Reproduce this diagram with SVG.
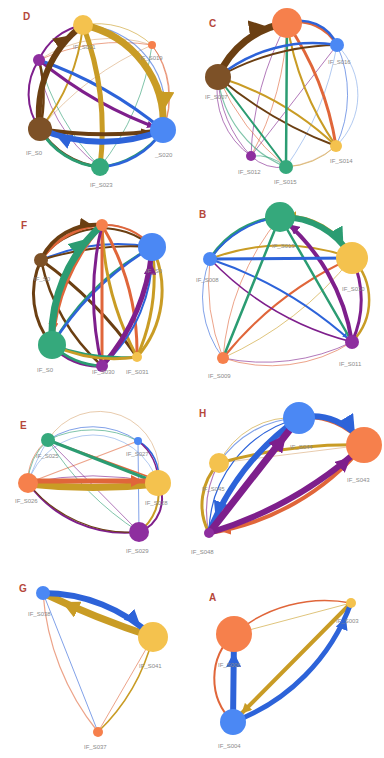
<svg xmlns="http://www.w3.org/2000/svg" width="384" height="758" viewBox="0 0 384 758">
<style>
.e{fill:none;stroke-linecap:round}
.t{opacity:0.6}
.y{stroke:#C99C25}.o{stroke:#E0663A}.b{stroke:#2D63D9}.br{stroke:#6B3F12}.p{stroke:#7E1F8C}.g{stroke:#2B9C72}.lb{stroke:#7FA6E8}.tan{stroke:#D9A877}
.ny{fill:#F4C24E}.no{fill:#F6804C}.nb{fill:#4B88F4}.nbr{fill:#7D5127}.np{fill:#8E2E9F}.ng{fill:#35A97C}
.lab{font-family:"Liberation Sans",Arial,sans-serif;font-size:6px;fill:#8A8A8A}
.ttl{font-family:"Liberation Sans",Arial,sans-serif;font-size:10px;font-weight:bold;fill:#B5473A}
</style>
<defs>
<marker id="ay" viewBox="0 0 10 10" refX="22" refY="5" markerWidth="2.5" markerHeight="2.5" orient="auto" markerUnits="strokeWidth"><path d="M0,0L10,5L0,10z" fill="#C99C25"/></marker>
<marker id="ab" viewBox="0 0 10 10" refX="22" refY="5" markerWidth="2.5" markerHeight="2.5" orient="auto" markerUnits="strokeWidth"><path d="M0,0L10,5L0,10z" fill="#2D63D9"/></marker>
<marker id="abr" viewBox="0 0 10 10" refX="22" refY="5" markerWidth="2.5" markerHeight="2.5" orient="auto" markerUnits="strokeWidth"><path d="M0,0L10,5L0,10z" fill="#6B3F12"/></marker>
<marker id="ap" viewBox="0 0 10 10" refX="22" refY="5" markerWidth="2.5" markerHeight="2.5" orient="auto" markerUnits="strokeWidth"><path d="M0,0L10,5L0,10z" fill="#7E1F8C"/></marker>
<marker id="ag" viewBox="0 0 10 10" refX="22" refY="5" markerWidth="2.5" markerHeight="2.5" orient="auto" markerUnits="strokeWidth"><path d="M0,0L10,5L0,10z" fill="#2B9C72"/></marker>
<marker id="ao" viewBox="0 0 10 10" refX="22" refY="5" markerWidth="2.5" markerHeight="2.5" orient="auto" markerUnits="strokeWidth"><path d="M0,0L10,5L0,10z" fill="#E0663A"/></marker>
</defs>
<rect width="384" height="758" fill="#FFFFFF"/>

<!-- Panel D -->
<g id="panelD">
<text class="ttl" x="23" y="20">D</text>
<g id="edgesD">
<path class="e y t" stroke-width="1" d="M83,25 A80 80 0 0 1 152,45"/>
<path class="e o t" stroke-width="1" d="M152,45 A90 90 0 0 1 163,130"/>
<path class="e tan t" stroke-width="1" d="M152,45 A300 300 0 0 0 40,129"/>
<path class="e g t" stroke-width="1" d="M152,45 A250 250 0 0 1 100,167"/>
<path class="e tan t" stroke-width="1" d="M39,60 A130 130 0 0 1 152,45"/>
<path class="e o t" stroke-width="1" d="M152,45 A200 200 0 0 0 39,60"/>
<path class="e g t" stroke-width="1" d="M100,167 A250 250 0 0 1 39,60"/>
<path class="e p t" stroke-width="1" d="M39,60 A150 150 0 0 0 100,167"/>
<path class="e g t" stroke-width="1.2" d="M100,167 A300 300 0 0 0 83,25"/>
<path class="e b t" stroke-width="1.2" d="M163,130 A85 85 0 0 0 83,25"/>
<path class="e o t" stroke-width="1" d="M163,130 A85 85 0 0 0 152,45"/>
<path class="e p" stroke-width="2" d="M39,60 A60 60 0 0 1 83,25"/>
<path class="e y" stroke-width="2" d="M83,25 A200 200 0 0 1 40,129"/>
<path class="e p" stroke-width="2" d="M39,60 A60 60 0 0 0 40,129"/>
<path class="e br" stroke-width="2.5" d="M40,129 A150 150 0 0 0 39,60"/>
<path class="e g" stroke-width="2" d="M100,167 A90 90 0 0 0 163,130"/>
<path class="e br" stroke-width="3" d="M40,129 A80 80 0 0 0 100,167"/>
<path class="e g" stroke-width="3" d="M100,167 A75 75 0 0 1 40,129"/>
<path class="e b" stroke-width="2.5" d="M163,130 A80 80 0 0 1 100,167"/>
<path class="e p" stroke-width="3" d="M39,60 A400 400 0 0 0 163,130" marker-end="url(#ap)"/>
<path class="e b" stroke-width="3" d="M163,130 A400 400 0 0 0 39,60"/>
<path class="e y" stroke-width="5" d="M83,25 A300 300 0 0 1 100,167"/>
<path class="e br" stroke-width="6" d="M40,129 A110 110 0 0 1 83,25" marker-end="url(#abr)"/>
<path class="e br" stroke-width="4" d="M40,129 A400 400 0 0 0 163,130" marker-end="url(#abr)"/>
<path class="e b" stroke-width="6" d="M163,130 A160 160 0 0 1 40,129" marker-end="url(#ab)"/>
<path class="e y" stroke-width="7" d="M83,25 A100 100 0 0 1 163,130" marker-end="url(#ay)"/>
</g>
<g id="D-S021"><circle class="ny" cx="83" cy="25" r="10"/><text class="lab" x="73" y="49">IF_S021</text></g>
<g id="D-S019"><circle class="no" cx="152" cy="45" r="4"/><text class="lab" x="140" y="60">IF_S019</text></g>
<g id="D-S022"><circle class="np" cx="39" cy="60" r="6"/></g>
<g id="D-S024"><circle class="nbr" cx="40" cy="129" r="12"/><text class="lab" x="26" y="155">IF_S0</text></g>
<g id="D-S020"><circle class="nb" cx="163" cy="130" r="13"/><text class="lab" x="155" y="157">_S020</text></g>
<g id="D-S023"><circle class="ng" cx="100" cy="167" r="9"/><text class="lab" x="90" y="187">IF_S023</text></g>
</g>

<!-- Panel C -->
<g id="panelC">
<text class="ttl" x="209" y="27">C</text>
<g id="edgesC">
<path class="e lb t" stroke-width="1" d="M336,146 A70 70 0 0 0 337,45"/>
<path class="e b t" stroke-width="1" d="M337,45 A120 120 0 0 1 336,146"/>
<path class="e p t" stroke-width="1" d="M251,156 A300 300 0 0 1 287,23"/>
<path class="e o t" stroke-width="1" d="M287,23 A300 300 0 0 1 251,156"/>
<path class="e p t" stroke-width="1" d="M251,156 L337,45"/>
<path class="e lb t" stroke-width="1" d="M286,167 A300 300 0 0 0 337,45"/>
<path class="e y t" stroke-width="1" d="M286,167 A80 80 0 0 0 336,146"/>
<path class="e tan t" stroke-width="1" d="M336,146 A90 90 0 0 1 286,167"/>
<path class="e p t" stroke-width="1" d="M251,156 A40 40 0 0 0 286,167"/>
<path class="e g t" stroke-width="1" d="M286,167 A45 45 0 0 0 251,156"/>
<path class="e p t" stroke-width="1" d="M218,77 A80 80 0 0 0 251,156"/>
<path class="e p t" stroke-width="1" d="M251,156 A120 120 0 0 1 218,77"/>
<path class="e g t" stroke-width="1.2" d="M286,167 A110 110 0 0 1 218,77"/>
<path class="e o t" stroke-width="1" d="M218,77 A250 250 0 0 0 286,167"/>
<path class="e g" stroke-width="2" d="M218,77 L286,167"/>
<path class="e y" stroke-width="2" d="M336,146 A300 300 0 0 0 218,77"/>
<path class="e br" stroke-width="2" d="M218,77 A400 400 0 0 0 336,146"/>
<path class="e g" stroke-width="2.5" d="M287,23 L286,167"/>
<path class="e y" stroke-width="2" d="M336,146 A300 300 0 0 1 287,23"/>
<path class="e o" stroke-width="3" d="M287,23 A300 300 0 0 1 336,146"/>
<path class="e br" stroke-width="2" d="M218,77 A250 250 0 0 1 337,45"/>
<path class="e b" stroke-width="2.5" d="M337,45 A150 150 0 0 0 218,77"/>
<path class="e o" stroke-width="3" d="M287,23 A45 45 0 0 1 337,45"/>
<path class="e b" stroke-width="2.5" d="M337,45 A40 40 0 0 0 287,23" marker-end="url(#ab)"/>
<path class="e br" stroke-width="7" d="M218,77 A90 90 0 0 1 287,23" marker-end="url(#abr)"/>
</g>
<g id="C-S017"><circle class="no" cx="287" cy="23" r="15"/></g>
<g id="C-S016"><circle class="nb" cx="337" cy="45" r="7"/><text class="lab" x="328" y="64">IF_S016</text></g>
<g id="C-S007"><circle class="nbr" cx="218" cy="77" r="13"/><text class="lab" x="205" y="99">IF_S007</text></g>
<g id="C-S014"><circle class="ny" cx="336" cy="146" r="6"/><text class="lab" x="330" y="163">IF_S014</text></g>
<g id="C-S015"><circle class="ng" cx="286" cy="167" r="7"/><text class="lab" x="274" y="184">IF_S015</text></g>
<g id="C-S012"><circle class="np" cx="251" cy="156" r="5"/><text class="lab" x="238" y="174">IF_S012</text></g>
</g>

<!-- Panel F -->
<g id="panelF">
<text class="ttl" x="21" y="229">F</text>
<g id="edgesF">
<path class="e b t" stroke-width="1.2" d="M152,247 A60 60 0 0 0 102,225"/>
<path class="e o" stroke-width="2" d="M102,225 A60 60 0 0 1 152,247"/>
<path class="e br" stroke-width="2" d="M41,260 A75 75 0 0 1 152,247"/>
<path class="e b" stroke-width="2" d="M152,247 A200 200 0 0 0 41,260"/>
<path class="e br" stroke-width="2" d="M41,260 A300 300 0 0 1 152,247"/>
<path class="e br" stroke-width="3" d="M41,260 A80 80 0 0 0 52,345"/>
<path class="e br" stroke-width="2.5" d="M41,260 A200 200 0 0 0 102,366"/>
<path class="e br" stroke-width="3" d="M41,260 A400 400 0 0 1 137,357"/>
<path class="e g" stroke-width="2" d="M52,345 A250 250 0 0 1 152,247"/>
<path class="e b" stroke-width="2.5" d="M152,247 A300 300 0 0 0 52,345"/>
<path class="e y" stroke-width="3" d="M137,357 A300 300 0 0 1 102,225"/>
<path class="e o" stroke-width="3" d="M102,225 A250 250 0 0 1 137,357"/>
<path class="e o" stroke-width="3" d="M102,225 L102,366"/>
<path class="e p" stroke-width="3" d="M102,366 A300 300 0 0 1 102,225"/>
<path class="e y" stroke-width="3" d="M152,247 A100 100 0 0 1 137,357"/>
<path class="e y" stroke-width="3" d="M137,357 A200 200 0 0 0 152,247"/>
<path class="e b" stroke-width="2" d="M102,366 A150 150 0 0 0 152,247"/>
<path class="e p" stroke-width="5" d="M102,366 A200 200 0 0 0 152,247" marker-end="url(#ap)"/>
<path class="e g" stroke-width="2.5" d="M52,345 A200 200 0 0 0 137,357"/>
<path class="e y" stroke-width="3" d="M137,357 A150 150 0 0 1 52,345"/>
<path class="e p" stroke-width="3" d="M102,366 A60 60 0 0 1 52,345"/>
<path class="e g" stroke-width="2.5" d="M52,345 A80 80 0 0 0 102,366"/>
<path class="e o" stroke-width="4" d="M102,225 A200 200 0 0 0 52,345" marker-end="url(#ao)"/>
<path class="e o" stroke-width="3" d="M102,225 A80 80 0 0 0 41,260"/>
<path class="e br" stroke-width="4" d="M41,260 A60 60 0 0 1 102,225" marker-end="url(#abr)"/>
<path class="e g" stroke-width="7" d="M52,345 A150 150 0 0 1 102,225" marker-end="url(#ag)"/>
</g>
<g id="F-S032"><circle class="no" cx="102" cy="225" r="6"/></g>
<g id="F-S034"><circle class="nb" cx="152" cy="247" r="14"/><text class="lab" x="146" y="273">IF_S0</text></g>
<g id="F-S033"><circle class="nbr" cx="41" cy="260" r="7"/><text class="lab" x="34" y="281">IF_S0</text></g>
<g id="F-S035"><circle class="ng" cx="52" cy="345" r="14"/><text class="lab" x="37" y="372">IF_S0</text></g>
<g id="F-S030"><circle class="np" cx="102" cy="366" r="6"/><text class="lab" x="92" y="374">IF_S030</text></g>
<g id="F-S031"><circle class="ny" cx="137" cy="357" r="5"/><text class="lab" x="126" y="374">IF_S031</text></g>
</g>

<!-- Panel B -->
<g id="panelB">
<text class="ttl" x="199" y="218">B</text>
<g id="edgesB">
<path class="e b t" stroke-width="1" d="M210,259 A100 100 0 0 0 223,358"/>
<path class="e o t" stroke-width="1" d="M223,358 A200 200 0 0 1 210,259"/>
<path class="e p t" stroke-width="1" d="M223,358 A200 200 0 0 0 352,342"/>
<path class="e o t" stroke-width="1" d="M352,342 A150 150 0 0 1 223,358"/>
<path class="e o t" stroke-width="1" d="M223,358 A250 250 0 0 1 280,217"/>
<path class="e y t" stroke-width="1" d="M352,258 A350 350 0 0 1 223,358"/>
<path class="e o" stroke-width="2" d="M223,358 A350 350 0 0 1 352,258"/>
<path class="e p" stroke-width="1.5" d="M352,342 A300 300 0 0 1 210,259"/>
<path class="e b" stroke-width="2" d="M210,259 A400 400 0 0 1 352,342" marker-end="url(#ab)"/>
<path class="e y" stroke-width="2" d="M210,259 A200 200 0 0 1 352,258"/>
<path class="e g" stroke-width="2.5" d="M280,217 L352,342"/>
<path class="e g" stroke-width="2.5" d="M280,217 L223,358"/>
<path class="e y" stroke-width="2.5" d="M352,258 A60 60 0 0 1 352,342"/>
<path class="e p" stroke-width="3" d="M352,342 A100 100 0 0 0 352,258"/>
<path class="e p" stroke-width="4" d="M352,342 A200 200 0 0 0 280,217" marker-end="url(#ap)"/>
<path class="e b" stroke-width="3" d="M210,259 L352,258"/>
<path class="e g" stroke-width="3" d="M280,217 A90 90 0 0 0 210,259"/>
<path class="e b" stroke-width="2" d="M210,259 A100 100 0 0 1 280,217" marker-end="url(#ab)"/>
<path class="e y" stroke-width="3" d="M352,258 A70 70 0 0 0 280,217" marker-end="url(#ay)"/>
<path class="e g" stroke-width="6" d="M280,217 A80 80 0 0 1 352,258" marker-end="url(#ag)"/>
</g>
<g id="B-S013"><circle class="ng" cx="280" cy="217" r="15"/><text class="lab" x="272" y="248">IF_S013</text></g>
<g id="B-S008"><circle class="nb" cx="210" cy="259" r="7"/><text class="lab" x="196" y="282">IF_S008</text></g>
<g id="B-S010"><circle class="ny" cx="352" cy="258" r="16"/><text class="lab" x="342" y="291">IF_S010</text></g>
<g id="B-S011"><circle class="np" cx="352" cy="342" r="7"/><text class="lab" x="339" y="366">IF_S011</text></g>
<g id="B-S009"><circle class="no" cx="223" cy="358" r="6"/><text class="lab" x="208" y="378">IF_S009</text></g>
</g>

<!-- Panel E -->
<g id="panelE">
<text class="ttl" x="20" y="429">E</text>
<g id="edgesE">
<path class="e lb t" stroke-width="1" d="M28,483 A68 68 0 0 1 158,483"/>
<path class="e b t" stroke-width="1" d="M48,440 A80 80 0 0 1 138,441"/>
<path class="e g t" stroke-width="1" d="M48,440 A100 100 0 0 1 138,441"/>
<path class="e tan t" stroke-width="1" d="M48,440 A60 60 0 0 1 158,483"/>
<path class="e o t" stroke-width="1" d="M28,483 A50 50 0 0 1 48,440"/>
<path class="e g t" stroke-width="1" d="M48,440 A60 60 0 0 0 28,483"/>
<path class="e o t" stroke-width="1.2" d="M28,483 L138,441"/>
<path class="e lb t" stroke-width="1" d="M28,483 A200 200 0 0 1 48,440"/>
<path class="e p t" stroke-width="1" d="M48,440 L139,532"/>
<path class="e g t" stroke-width="1" d="M48,440 A300 300 0 0 0 139,532"/>
<path class="e b t" stroke-width="1" d="M138,441 L139,532"/>
<path class="e p t" stroke-width="1" d="M28,483 A300 300 0 0 1 158,483"/>
<path class="e b" stroke-width="1.5" d="M138,441 A40 40 0 0 1 158,483"/>
<path class="e p" stroke-width="1.5" d="M138,441 A50 50 0 0 1 158,483"/>
<path class="e y" stroke-width="2" d="M158,483 A50 50 0 0 1 139,532"/>
<path class="e p" stroke-width="2" d="M139,532 A35 35 0 0 0 158,483"/>
<path class="e p" stroke-width="2" d="M28,483 A120 120 0 0 0 139,532"/>
<path class="e br" stroke-width="1.2" d="M139,532 A130 130 0 0 1 28,483"/>
<path class="e o" stroke-width="1.5" d="M48,440 L152,478"/>
<path class="e g" stroke-width="3" d="M48,440 L158,483"/>
<path class="e y" stroke-width="7" d="M158,484 A600 600 0 0 1 28,484"/>
<path class="e o" stroke-width="5" d="M28,481 L158,481" marker-end="url(#ao)"/>
</g>
<g id="E-S025"><circle class="ng" cx="48" cy="440" r="7"/><text class="lab" x="36" y="458">IF_S025</text></g>
<g id="E-S027"><circle class="nb" cx="138" cy="441" r="4"/><text class="lab" x="126" y="456">IF_S027</text></g>
<g id="E-S026"><circle class="no" cx="28" cy="483" r="10"/><text class="lab" x="15" y="503">IF_S026</text></g>
<g id="E-S028"><circle class="ny" cx="158" cy="483" r="13"/><text class="lab" x="145" y="505">IF_S028</text></g>
<g id="E-S029"><circle class="np" cx="139" cy="532" r="10"/><text class="lab" x="126" y="553">IF_S029</text></g>
</g>

<!-- Panel H -->
<g id="panelH">
<text class="ttl" x="199" y="417">H</text>
<g id="edgesH">
<path class="e tan t" stroke-width="1" d="M364,445 L219,463"/>
<path class="e b t" stroke-width="1.2" d="M219,463 A100 100 0 0 1 299,418"/>
<path class="e y t" stroke-width="1" d="M219,463 A80 80 0 0 1 299,418"/>
<path class="e b" stroke-width="1.2" d="M209,533 A120 120 0 0 1 299,418"/>
<path class="e p t" stroke-width="1.2" d="M209,533 A100 100 0 0 1 219,463"/>
<path class="e y" stroke-width="3" d="M219,463 A60 60 0 0 0 209,533"/>
<path class="e y" stroke-width="3" d="M219,463 A500 500 0 0 1 364,445" marker-end="url(#ay)"/>
<path class="e o" stroke-width="4" d="M364,445 A250 250 0 0 1 209,533" marker-end="url(#ao)"/>
<path class="e p" stroke-width="6" d="M209,533 A400 400 0 0 0 364,445" marker-end="url(#ap)"/>
<path class="e b" stroke-width="6" d="M299,418 A250 250 0 0 0 209,533" marker-end="url(#ab)"/>
<path class="e p" stroke-width="7" d="M209,533 L299,418" marker-end="url(#ap)"/>
<path class="e o" stroke-width="4" d="M364,445 A70 70 0 0 0 299,418"/>
<path class="e b" stroke-width="6" d="M299,418 A60 60 0 0 1 364,445" marker-end="url(#ab)"/>
</g>
<g id="H-S044"><circle class="nb" cx="299" cy="418" r="16"/><text class="lab" x="290" y="449">IF_S044</text></g>
<g id="H-S043"><circle class="no" cx="364" cy="445" r="18"/><text class="lab" x="347" y="482">IF_S043</text></g>
<g id="H-S045"><circle class="ny" cx="219" cy="463" r="10"/><text class="lab" x="202" y="491">IF_S045</text></g>
<g id="H-S048"><circle class="np" cx="209" cy="533" r="5"/><text class="lab" x="191" y="554">IF_S048</text></g>
</g>

<!-- Panel G -->
<g id="panelG">
<text class="ttl" x="19" y="592">G</text>
<g id="edgesG">
<path class="e b t" stroke-width="1" d="M43,593 L98,732"/>
<path class="e o t" stroke-width="1.2" d="M98,732 A250 250 0 0 1 43,593"/>
<path class="e y" stroke-width="1.5" d="M153,637 A200 200 0 0 1 98,732"/>
<path class="e o t" stroke-width="1" d="M98,732 L153,637"/>
<path class="e y" stroke-width="7" d="M153,637 A900 900 0 0 1 43,593" marker-end="url(#ay)"/>
<path class="e b" stroke-width="6" d="M43,593 A160 160 0 0 1 153,637" marker-end="url(#ab)"/>
</g>
<g id="G-S038"><circle class="nb" cx="43" cy="593" r="7"/><text class="lab" x="28" y="616">IF_S038</text></g>
<g id="G-S041"><circle class="ny" cx="153" cy="637" r="15"/><text class="lab" x="139" y="668">IF_S041</text></g>
<g id="G-S037"><circle class="no" cx="98" cy="732" r="5"/><text class="lab" x="84" y="749">IF_S037</text></g>
</g>

<!-- Panel A -->
<g id="panelA">
<text class="ttl" x="209" y="601">A</text>
<g id="edgesA">
<path class="e o" stroke-width="1.5" d="M234,634 A140 140 0 0 1 351,603"/>
<path class="e y t" stroke-width="1" d="M351,603 L234,634"/>
<path class="e o" stroke-width="2" d="M234,634 A60 60 0 0 0 233,722" marker-end="url(#ao)"/>
<path class="e y" stroke-width="4" d="M351,603 L233,722" marker-end="url(#ay)"/>
<path class="e b" stroke-width="5" d="M233,722 A200 200 0 0 0 351,603" marker-end="url(#ab)"/>
<path class="e b" stroke-width="6" d="M233,722 L234,634" marker-end="url(#ab)"/>
</g>
<g id="A-S006"><circle class="no" cx="234" cy="634" r="18"/><text class="lab" x="218" y="667">IF_S006</text></g>
<g id="A-S003"><circle class="ny" cx="351" cy="603" r="5"/><text class="lab" x="336" y="623">IF_S003</text></g>
<g id="A-S004"><circle class="nb" cx="233" cy="722" r="13"/><text class="lab" x="218" y="748">IF_S004</text></g>
</g>
</svg>
